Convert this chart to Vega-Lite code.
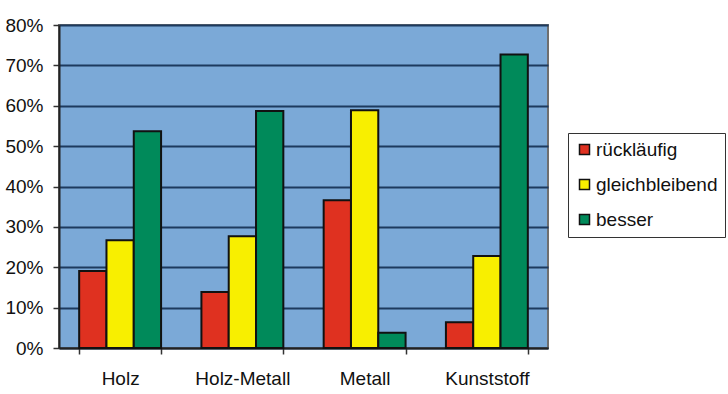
{
  "$schema": "https://vega.github.io/schema/vega-lite/v6.json",
  "width": 489,
  "height": 323,
  "autosize": "none",
  "padding": {"left": 59, "top": 25, "right": 180, "bottom": 46},
  "background": "white",
  "config": {
    "font": "Liberation Sans",
    "view": {"fill": "#7ba9d7", "stroke": "#6f6f6f", "strokeWidth": 2}
  },
  "data": {
    "values": [
      {"material": "Holz", "serie": "rückläufig", "wert": 0.191},
      {"material": "Holz", "serie": "gleichbleibend", "wert": 0.267},
      {"material": "Holz", "serie": "besser", "wert": 0.537},
      {"material": "Holz-Metall", "serie": "rückläufig", "wert": 0.139},
      {"material": "Holz-Metall", "serie": "gleichbleibend", "wert": 0.277},
      {"material": "Holz-Metall", "serie": "besser", "wert": 0.587},
      {"material": "Metall", "serie": "rückläufig", "wert": 0.366},
      {"material": "Metall", "serie": "gleichbleibend", "wert": 0.589},
      {"material": "Metall", "serie": "besser", "wert": 0.038},
      {"material": "Kunststoff", "serie": "rückläufig", "wert": 0.064},
      {"material": "Kunststoff", "serie": "gleichbleibend", "wert": 0.228},
      {"material": "Kunststoff", "serie": "besser", "wert": 0.727}
    ]
  },
  "mark": {"type": "bar", "stroke": "#111111", "strokeWidth": 2},
  "encoding": {
    "x": {
      "field": "material",
      "type": "nominal",
      "sort": ["Holz", "Holz-Metall", "Metall", "Kunststoff"],
      "title": null,
      "scale": {"paddingInner": 0.33, "paddingOuter": 0.165},
      "axis": {
        "labelAngle": 0,
        "labelFontSize": 19,
        "labelColor": "#111111",
        "labelPadding": 15,
        "tickBand": "extent",
        "tickSize": 6,
        "tickColor": "#333333",
        "tickWidth": 1.5,
        "domainColor": "#222222",
        "domainWidth": 2
      }
    },
    "xOffset": {
      "field": "serie",
      "type": "nominal",
      "sort": ["rückläufig", "gleichbleibend", "besser"]
    },
    "y": {
      "field": "wert",
      "type": "quantitative",
      "title": null,
      "scale": {"domain": [0, 0.8], "nice": false},
      "axis": {
        "format": ".0%",
        "values": [0, 0.1, 0.2, 0.3, 0.4, 0.5, 0.6, 0.7, 0.8],
        "labelFontSize": 19,
        "labelColor": "#111111",
        "labelPadding": 10,
        "tickSize": 6,
        "tickColor": "#333333",
        "tickWidth": 1.5,
        "domainColor": "#222222",
        "domainWidth": 2,
        "grid": true,
        "gridColor": "#1d3a5e",
        "gridWidth": 2
      }
    },
    "color": {
      "field": "serie",
      "type": "nominal",
      "sort": ["rückläufig", "gleichbleibend", "besser"],
      "scale": {
        "domain": ["rückläufig", "gleichbleibend", "besser"],
        "range": ["#df3120", "#f8ef00", "#008a5a"]
      },
      "legend": {
        "title": null,
        "orient": "none",
        "legendX": 509,
        "legendY": 108,
        "symbolType": "square",
        "symbolSize": 100,
        "symbolStrokeColor": "#111111",
        "symbolStrokeWidth": 1.5,
        "labelFontSize": 19,
        "labelColor": "#111111",
        "labelOffset": 2,
        "rowPadding": 15,
        "padding": 7,
        "strokeColor": "#333333",
        "fillColor": "white"
      }
    }
  }
}
